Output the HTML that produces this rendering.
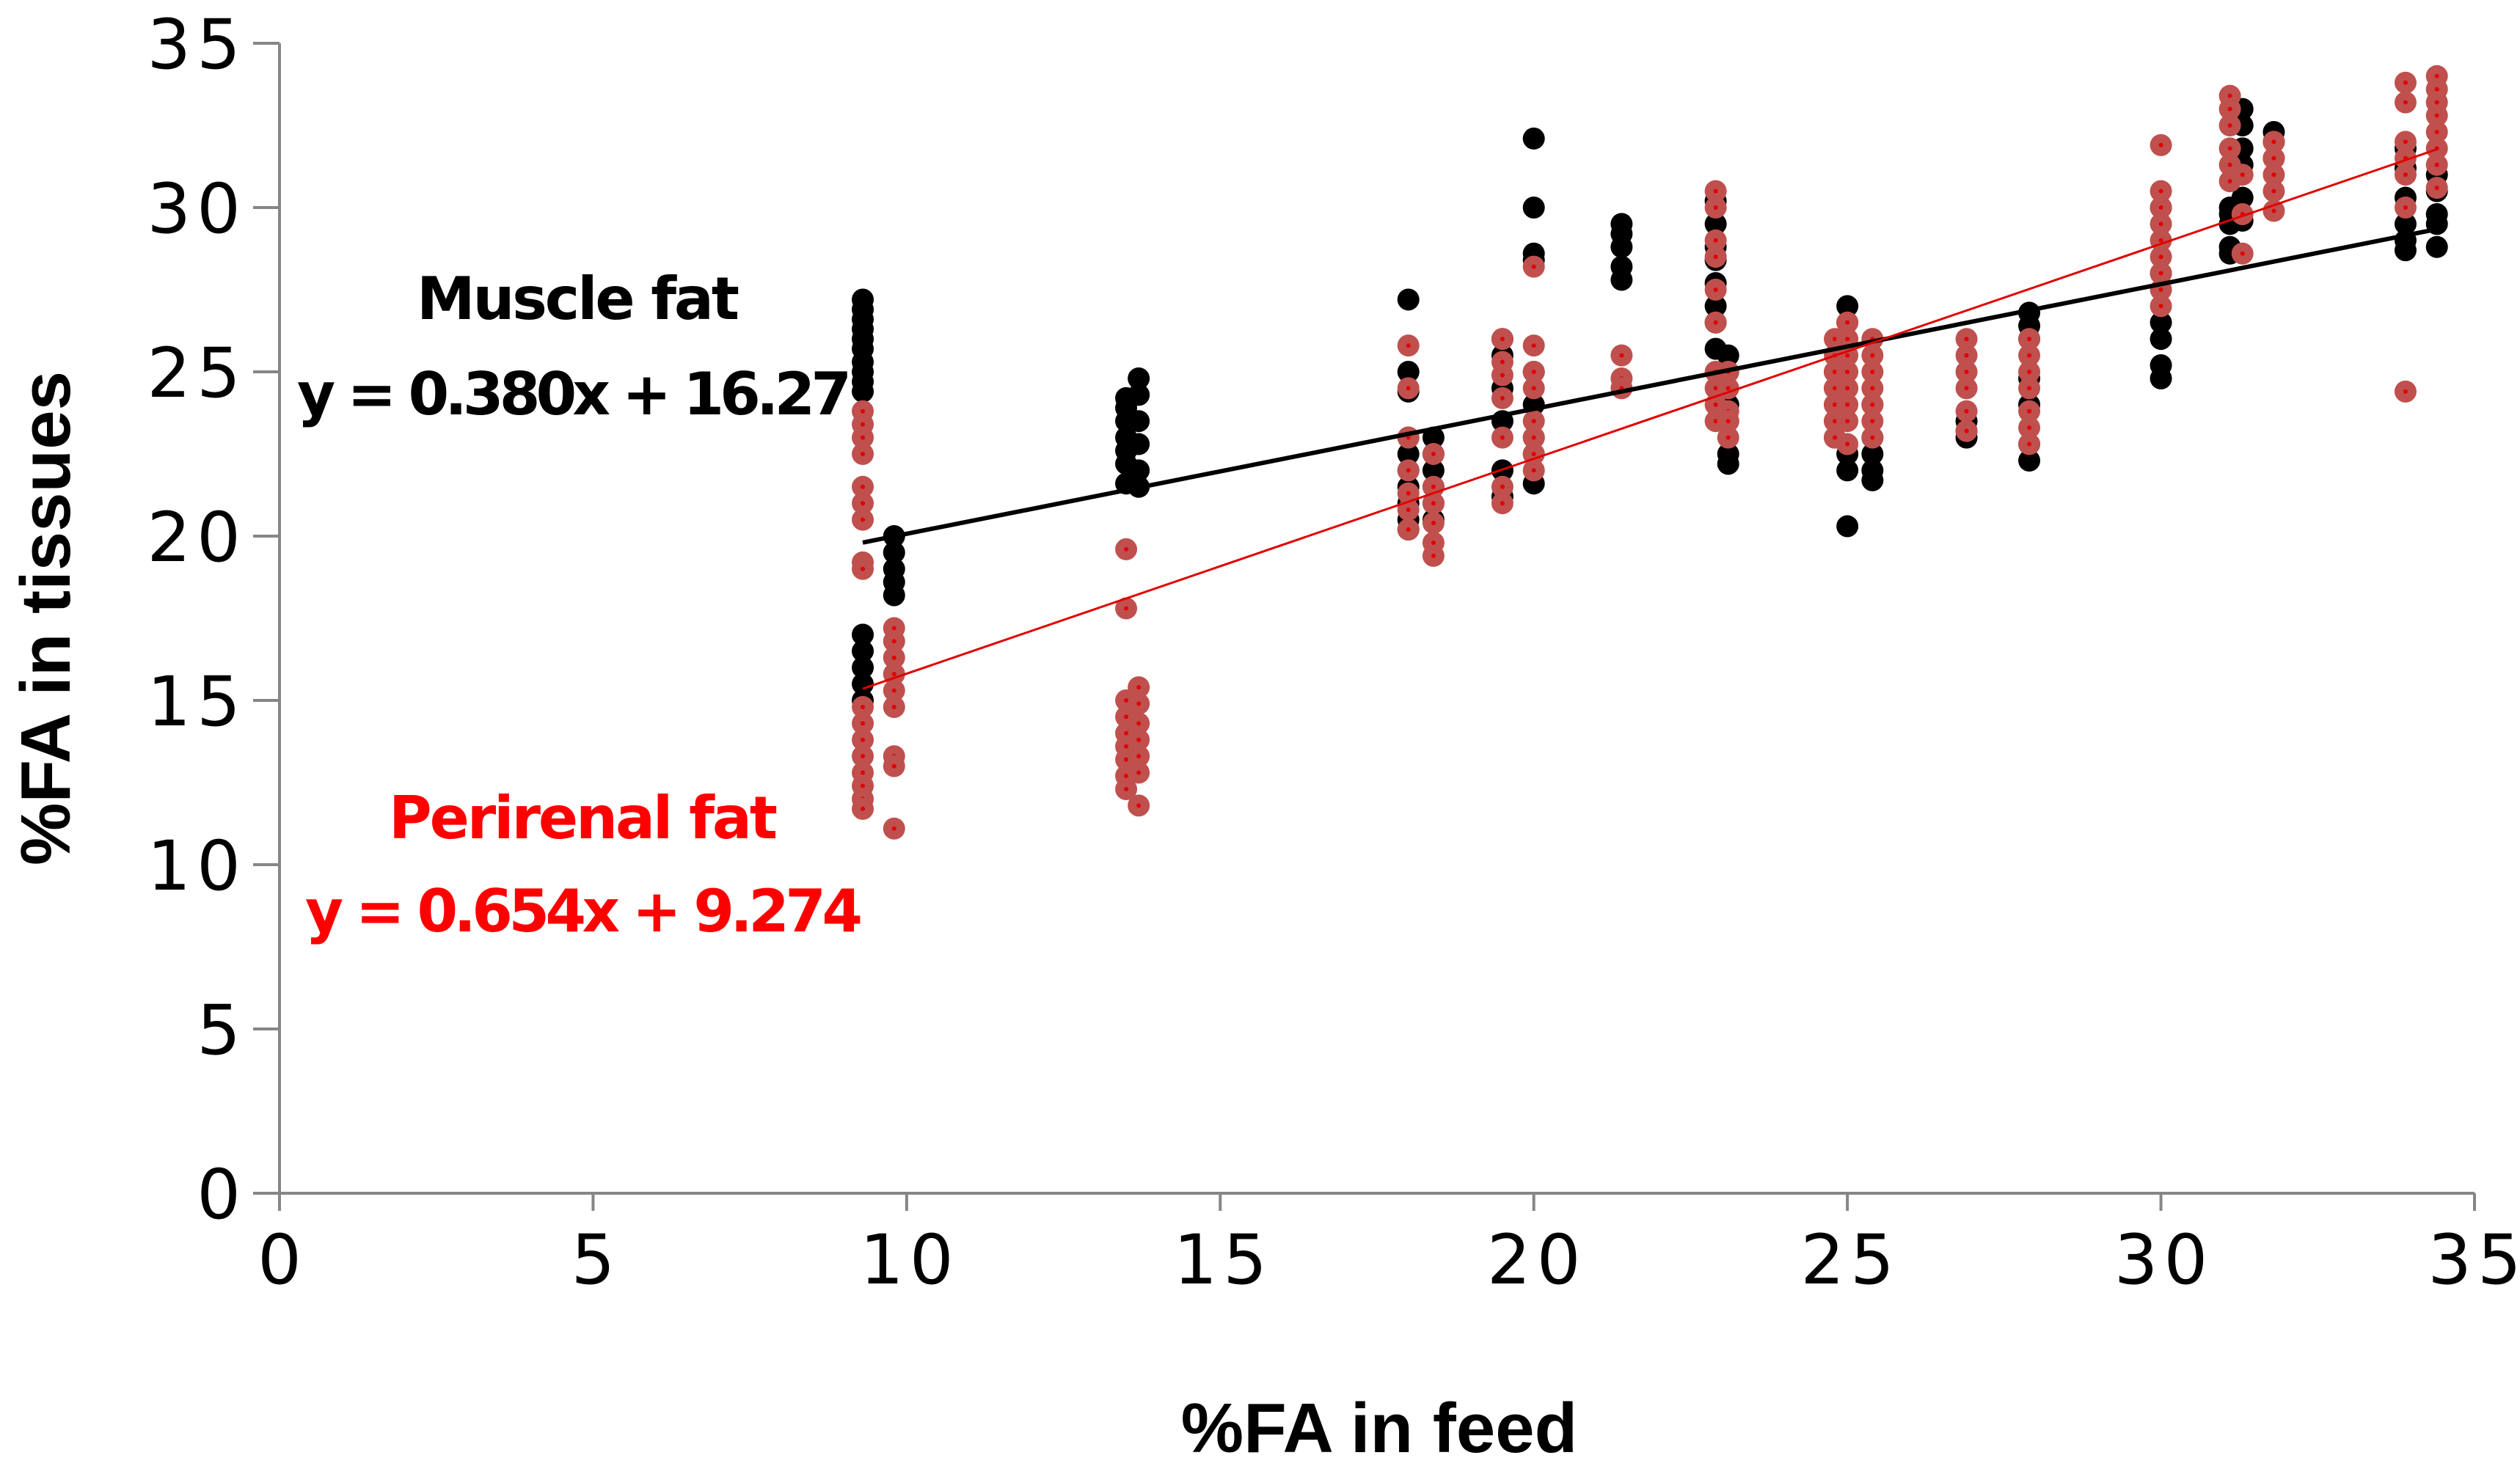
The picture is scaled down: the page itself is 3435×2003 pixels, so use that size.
<!DOCTYPE html>
<html><head><meta charset="utf-8"><style>
html,body{margin:0;padding:0;background:#fff;}
svg{display:block;font-family:"Liberation Sans",sans-serif;}
.tick{font-family:"DejaVu Sans",sans-serif;font-size:94px;letter-spacing:8px;}
</style></head><body>
<svg id="chart" width="3435" height="2003" viewBox="0 0 3435 2003" xmlns="http://www.w3.org/2000/svg">
<g id="axes"></g>
<g id="points"></g>
<g id="lines"></g>
<text x="788" y="435" font-size="80" font-weight="bold" text-anchor="middle" fill="#000" font-family="DejaVu Sans, sans-serif" textLength="440">Muscle fat</text>
<text x="405" y="565" font-size="80" font-weight="bold" fill="#000" font-family="DejaVu Sans, sans-serif" textLength="756">y = 0.380x + 16.27</text>
<text x="795" y="1143" font-size="80" font-weight="bold" text-anchor="middle" fill="#ff0000" font-family="DejaVu Sans, sans-serif" textLength="530">Perirenal fat</text>
<text x="416" y="1270" font-size="80" font-weight="bold" fill="#ff0000" font-family="DejaVu Sans, sans-serif" textLength="760">y = 0.654x + 9.274</text>
<text x="1880" y="1980" font-size="96" font-weight="bold" text-anchor="middle">%FA in feed</text>
<text transform="translate(95,843) rotate(-90)" font-size="96" font-weight="bold" text-anchor="middle">%FA in tissues</text>
</svg>
<script>
const xTicks=[0,5,10,15,20,25,30,35];
const yTicks=[0,5,10,15,20,25,30,35];
const muscleX=[9.3,9.8,13.5,13.7,18,18.4,19.5,20,21.4,22.9,23.1,24.8,25,25.4,26.9,27.9,30,31.1,31.3,31.8,33.9,34.4];
const muscleY=[
[27.2,26.9,26.6,26.3,26,25.7,25.3,25,24.7,24.4,17,16.5,16,15.5,15],
[20,19.5,19,18.6,18.2],
[24.2,23.9,23.5,23,22.6,22.2,21.6],
[24.8,24.3,23.5,22.8,22,21.5],
[27.2,25,24.4,23,22.5,22,21.5,21,20.5,20.2],
[23,22.5,22,21.5,21,20.5],
[26,25.5,24.5,23.5,22,21.2],
[32.1,30,28.6,28.4,25,24,23,22.5,21.6],
[29.5,29.2,28.8,28.2,27.8],
[30.2,29.5,28.8,28.4,27.7,27,26.5,25.7],
[25.5,25,24,23.5,22.5,22.2],
[25,24.5,24,23.5,23],
[27,26.5,22.5,22,20.3],
[24,23,22.5,22,21.7],
[23.5,23.2,23],
[26.8,26.4,26,24.8,24,22.8,22.3],
[30,28,26.5,26,25.2,24.8],
[30,29.8,29.5,28.8,28.6],
[33,32.5,31.8,31.3,30.3,29.6],
[32.3,32,31.5],
[31.8,31.2,30.3,29.5,29,28.7],
[31,30.5,29.8,29.5,28.8]];
const periX=[9.3,9.8,13.5,13.7,18,18.4,19.5,20,21.4,22.9,23.1,24.8,25,25.4,26.9,27.9,30,31.1,31.3,31.8,33.9,34.4];
const periY=[
[23.8,23.4,23,22.5,21.5,21,20.5,19.2,19,14.8,14.3,13.8,13.3,12.8,12.4,12,11.7],
[17.2,16.8,16.3,15.8,15.3,14.8,13.3,13,11.1],
[19.6,17.8,15,14.5,14,13.6,13.2,12.7,12.3],
[15.4,14.9,14.3,13.8,13.3,12.8,11.8],
[25.8,24.5,23,22,21.3,20.8,20.2],
[22.5,21.5,21,20.4,19.8,19.4],
[26,25.3,24.9,24.2,23,21.5,21],
[28.2,25.8,25,24.5,23.5,23,22.5,22],
[25.5,24.8,24.5],
[30.5,30,29,28.5,27.5,26.5,25,24.5,24,23.5],
[25,24.5,23.8,23.5,23],
[26,25.5,25,24.5,24,23.5,23],
[26.5,26,25.5,25,24.5,24,23.5,22.8],
[26,25.5,25,24.5,24,23.5,23],
[26,25.5,25,24.5,23.8,23.2],
[26,25.5,25,24.5,23.8,23.3,22.8],
[31.9,30.5,30,29.5,29,28.5,28,27.5,27],
[33.4,33,32.5,31.8,31.3,30.8],
[31,29.8,28.6],
[32,31.5,31,30.5,29.9],
[33.8,33.2,32,31.5,31,30,24.4],
[34,33.6,33.2,32.8,32.3,31.8,31.3,30.6]];
const muscleFit=[0.380,16.27];
const periFit=[0.654,9.274];
const fitRange=[9.3,34.4];

const X0=381,X1=3373,Y0=1627,Y1=59;
function sx(v){return X0+(v-0)/(35-0)*(X1-X0);}
function sy(v){return Y0-(v-0)/(35-0)*(Y0-Y1);}
const NS='http://www.w3.org/2000/svg';
function mk(tag,attrs,parent){const e=document.createElementNS(NS,tag);for(const k in attrs)e.setAttribute(k,attrs[k]);parent.appendChild(e);return e;}
const axes=document.getElementById('axes');
let e=mk('line',{x1:X0,y1:Y1,x2:X0,y2:Y0,stroke:'#868686','stroke-width':4},axes);


e=mk('line',{x1:X0,y1:Y0,x2:X1,y2:Y0,stroke:'#868686','stroke-width':4},axes);


yTicks.forEach(t=>{
 let l=mk('line',{x1:X0-36,y1:sy(t),x2:X0,y2:sy(t),stroke:'#868686','stroke-width':4},axes);
 
 
 let tx=mk('text',{x:336,y:sy(t)+34,'class':'tick','text-anchor':'end',fill:'#000'},axes);
 tx.textContent=t;
 
 
});
xTicks.forEach(t=>{
 let l=mk('line',{x1:sx(t),y1:Y0,x2:sx(t),y2:Y0+24,stroke:'#868686','stroke-width':4},axes);
 
 
 let tx=mk('text',{x:sx(t)+4,y:1750,'class':'tick','text-anchor':'middle',fill:'#000'},axes);
 tx.textContent=t;
 
 
});
const pts=document.getElementById('points');
muscleX.forEach((x,i)=>{muscleY[i].forEach(y=>{
 let c=mk('circle',{cx:sx(x),cy:sy(y),r:15,fill:'#000'},pts);
 
 
});});
periX.forEach((x,i)=>{periY[i].forEach(y=>{
 let c=mk('circle',{cx:sx(x),cy:sy(y),r:15,fill:'#c0504d'},pts);
 
 
 let d=mk('circle',{cx:sx(x),cy:sy(y),r:3,fill:'#e00000'},pts);
 
 
});});
const lines=document.getElementById('lines');
e=mk('line',{x1:sx(fitRange[0]),y1:sy(muscleFit[0]*fitRange[0]+muscleFit[1]),x2:sx(fitRange[1]),y2:sy(muscleFit[0]*fitRange[1]+muscleFit[1]),stroke:'#000','stroke-width':6},lines);


e=mk('line',{x1:sx(fitRange[0]),y1:sy(periFit[0]*fitRange[0]+periFit[1]),x2:sx(fitRange[1]),y2:sy(periFit[0]*fitRange[1]+periFit[1]),stroke:'#e00000','stroke-width':3},lines);


</script>
</body></html>
